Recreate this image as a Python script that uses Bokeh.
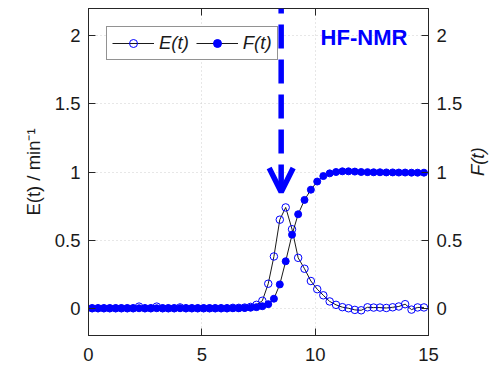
import math
from bokeh.plotting import figure
from bokeh.models import (LinearAxis, FixedTicker, Label, Legend, LegendItem, Arrow,
                          OpenHead, Range1d, Grid)
from bokeh.embed import file_html
from bokeh.resources import INLINE

# ---------------- data ----------------
t_min = [0.16, 0.42, 0.68, 0.94, 1.20, 1.45, 1.71, 1.97, 2.23, 2.49,
         2.75, 3.01, 3.27, 3.52, 3.78, 4.04, 4.30, 4.56, 4.82, 5.08,
         5.34, 5.59, 5.85, 6.11, 6.37, 6.63, 6.89, 7.15, 7.41, 7.67,
         7.93, 8.18, 8.44, 8.70, 8.98, 9.25, 9.53, 9.81, 10.09, 10.36,
         10.64, 10.92, 11.20, 11.47, 11.75, 12.03, 12.31, 12.58, 12.86, 13.14,
         13.42, 13.69, 13.97, 14.25, 14.52, 14.80]

E_t = [0, 0, 0, 0, 0, 0, 0, 0, 0.012, 0,
       0, 0.012, 0, 0, 0, 0.006, 0, 0, 0, 0,
       0, 0, 0, 0, 0.003, 0.003, 0.005, 0.01, 0.025, 0.055,
       0.18, 0.38, 0.65, 0.74, 0.58, 0.37, 0.29, 0.20, 0.14, 0.095,
       0.05, 0.025, 0.008, 0.0, -0.012, -0.015, 0.007, 0.005, 0.005, 0.002,
       0.007, 0.013, 0.03, -0.01, 0.006, 0.006]

F_t = [0, 0, 0, 0, 0, 0, 0, 0, 0, 0,
       0, 0, 0, 0, 0, 0, 0, 0, 0, 0,
       0, 0, 0, 0, 0, 0, 0.002, 0.004, 0.008, 0.015,
       0.03, 0.07, 0.175, 0.345, 0.54, 0.69, 0.795, 0.87, 0.93, 0.97,
       0.99, 1.0, 1.005, 1.005, 1.003, 1.0, 0.999, 0.998, 0.998, 0.997,
       0.997, 0.996, 0.996, 0.995, 0.995, 0.995]

x_ticks = [0, 5, 10, 15]
x_tick_labels = ["0", "5", "10", "15"]
y_ticks = [0, 0.5, 1, 1.5, 2]
y_tick_labels = ["0", "0.5", "1", "1.5", "2"]
series_labels = ["E(t)", "F(t)"]
y_left_title = "E(t) / min\u207b\u00b9"
y_right_title = "F(t)"
right_title_pos = 0.97      # anchor of the right-hand title (data units)
annotation_text = "HF-NMR"
arrow_time = 8.5

FONT = "Liberation Sans"
AX = "#262626"
TXT = "#1a1a1a"
BLUE = "#0000ff"
FS = "18.5px"

p = figure(width=501, height=369, min_border_left=88, min_border_right=72,
           min_border_top=8, min_border_bottom=34,
           x_range=Range1d(0, 15), y_range=Range1d(-0.2, 2.2),
           x_axis_location=None, y_axis_location=None,
           output_backend="svg", toolbar_location=None)
p.outline_line_color = AX
p.background_fill_color = "white"
p.border_fill_color = "white"
for g in list(p.grid):
    g.visible = False


def style_axis(ax, ticks, labels, standoff):
    ax.ticker = FixedTicker(ticks=ticks)
    ax.major_label_overrides = {k: v for k, v in zip(ticks, labels)}
    ax.axis_line_color = AX
    ax.axis_line_width = 1
    ax.major_tick_line_color = AX
    ax.major_tick_in = 7
    ax.major_tick_out = 0
    ax.minor_tick_line_color = None
    ax.major_label_text_font = FONT
    ax.major_label_text_font_size = FS
    ax.major_label_text_color = TXT
    ax.major_label_standoff = standoff
    ax.axis_label_text_font = FONT
    ax.axis_label_text_font_size = FS
    ax.axis_label_text_color = TXT


bottom = LinearAxis()
style_axis(bottom, x_ticks, x_tick_labels, 12)
p.add_layout(bottom, "below")

top = LinearAxis()
style_axis(top, x_ticks, x_tick_labels, 0)
top.major_label_text_font_size = "0px"
p.add_layout(top, "above")

left = LinearAxis(axis_label=y_left_title)
style_axis(left, y_ticks, y_tick_labels, 8)
left.axis_label_standoff = 8
left.axis_label_text_font_style = "normal"
p.add_layout(left, "left")

right = LinearAxis()
style_axis(right, y_ticks, y_tick_labels, 8)
p.add_layout(right, "right")

# right-hand title, written bottom-to-top like the reference
right_title = LinearAxis()
style_axis(right_title, [right_title_pos], [y_right_title], 12)
right_title.axis_line_color = None
right_title.major_tick_line_color = None
right_title.major_label_text_font_style = "italic"
right_title.major_label_orientation = math.pi / 2
p.add_layout(right_title, "right")

for dim, ticks in ((0, x_ticks), (1, y_ticks)):
    g = Grid(dimension=dim, ticker=FixedTicker(ticks=ticks))
    g.grid_line_color = "#cfcfcf"
    g.grid_line_dash = "1 3"
    g.grid_line_width = 1
    p.add_layout(g)

# ---------------- series ----------------
e_line = p.line(t_min, E_t, line_color="black", line_width=0.9)
e_pts = p.scatter(t_min, E_t, marker="circle", size=7.5, line_color=BLUE,
                  fill_color=None, line_width=1)
f_line = p.line(t_min, F_t, line_color="black", line_width=0.9)
f_pts = p.scatter(t_min, F_t, marker="circle", size=7, line_color=BLUE,
                  fill_color=BLUE, line_width=1)

legend = Legend(items=[LegendItem(label=series_labels[0], renderers=[e_line, e_pts]),
                       LegendItem(label=series_labels[1], renderers=[f_line, f_pts])],
                orientation="horizontal", location="top_left")
legend.border_line_color = AX
legend.border_line_width = 1
legend.background_fill_color = "white"
legend.background_fill_alpha = 1
legend.label_text_font = FONT
legend.label_text_font_size = FS
legend.label_text_font_style = "italic"
legend.label_text_color = TXT
legend.glyph_width = 42
legend.glyph_height = 20
legend.label_height = 20
legend.label_standoff = 5
legend.spacing = 7
legend.padding = 5
legend.margin = 18
p.add_layout(legend)

# ---------------- annotations ----------------
p.add_layout(Label(x=10.24, y=1.99, text=annotation_text, text_font=FONT,
                   text_font_style="bold", text_font_size="22px", text_color=BLUE,
                   text_align="left", text_baseline="middle"))

p.add_layout(Arrow(x_start=arrow_time, y_start=2.2, x_end=arrow_time, y_end=0.853,
                   line_color=BLUE, line_width=5.5, line_dash="24 11",
                   line_dash_offset=19,
                   end=OpenHead(size=24, line_color=BLUE, line_width=5.5)))

open("out.html", "w").write(file_html(p, INLINE))
